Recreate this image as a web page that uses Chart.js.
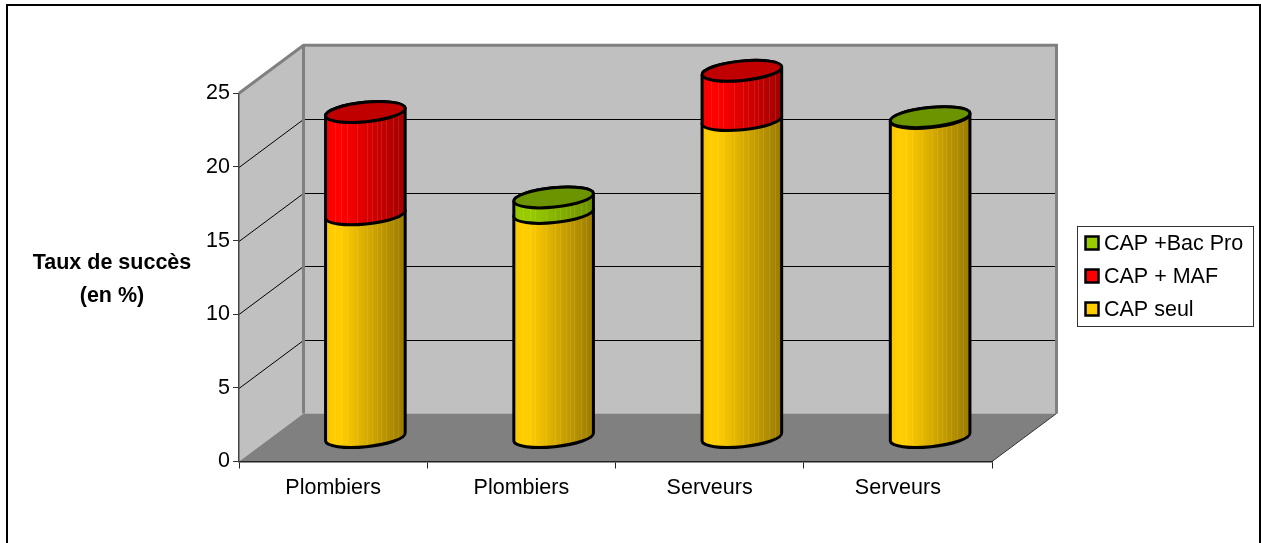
<!DOCTYPE html>
<html>
<head>
<meta charset="utf-8">
<style>
  html, body { margin: 0; padding: 0; background: #fff; }
  canvas { display: block; }
</style>
<script src="https://cdn.jsdelivr.net/npm/chart.js@4"></script>
</head>
<body>
<canvas id="myChart" width="1261" height="543"></canvas>
<script>
const categories = ['Plombiers', 'Plombiers', 'Serveurs', 'Serveurs'];
const capSeul = [15.15, 15.25, 21.55, 21.7];
const capMaf = [6.95, 0, 3.35, 0];
const capBacPro = [0, 1.05, 0, 0.05];
const yTicks = [0, 5, 10, 15, 20, 25];
const axisTitle = ['Taux de succès', '(en %)'];

const FONT = 'Arial, "Liberation Sans", sans-serif';
const DEPTH_X = 64.5;
const DEPTH_Y = -48;
const TILT = -0.1;
const RY = 9.7;
// pale vertical bands on the cylinder bodies, as fractions of the width
const BANDS = [0.12, 0.2, 0.27, 0.4, 0.52, 0.58, 0.65, 0.7, 0.76, 0.84, 0.91];

const walls = {
  id: 'walls',
  beforeDraw(chart) {
    const {ctx, chartArea: a, scales: {y}} = chart;
    const bx = a.left + DEPTH_X, tyb = a.top + DEPTH_Y, byb = a.bottom + DEPTH_Y;
    const brx = a.right + DEPTH_X;
    ctx.save();
    // outer frame
    ctx.strokeStyle = '#000';
    ctx.lineWidth = 2;
    ctx.strokeRect(7, 5, 1253, 560);
    // left wall, back wall, floor
    ctx.fillStyle = '#c0c0c0';
    ctx.beginPath();
    ctx.moveTo(a.left, a.top); ctx.lineTo(bx, tyb); ctx.lineTo(bx, byb); ctx.lineTo(a.left, a.bottom);
    ctx.closePath(); ctx.fill();
    ctx.fillRect(bx, tyb, brx - bx, byb - tyb);
    ctx.fillStyle = '#808080';
    ctx.beginPath();
    ctx.moveTo(a.left, a.bottom); ctx.lineTo(bx, byb); ctx.lineTo(brx, byb); ctx.lineTo(a.right, a.bottom);
    ctx.closePath(); ctx.fill();
    // gridlines
    ctx.strokeStyle = '#000';
    ctx.lineWidth = 1;
    yTicks.slice(1, -1).forEach(v => {
      const py = Math.round(y.getPixelForValue(v)) + 0.5;
      ctx.beginPath();
      ctx.moveTo(a.left, py);
      ctx.lineTo(bx, py + DEPTH_Y);
      ctx.lineTo(brx, py + DEPTH_Y);
      ctx.stroke();
    });
    // wall edges
    ctx.strokeStyle = '#808080';
    ctx.lineWidth = 3;
    ctx.beginPath();
    ctx.moveTo(a.left, a.top); ctx.lineTo(bx, tyb); ctx.lineTo(brx, tyb); ctx.lineTo(brx, byb);
    ctx.moveTo(bx, tyb); ctx.lineTo(bx, byb);
    ctx.stroke();
    ctx.strokeStyle = '#333';
    ctx.lineWidth = 1;
    ctx.beginPath();
    ctx.moveTo(a.right, a.bottom); ctx.lineTo(brx, byb);
    ctx.stroke();
    // axis title
    ctx.fillStyle = '#000';
    ctx.font = 'bold 21.5px ' + FONT;
    ctx.textAlign = 'center';
    ctx.textBaseline = 'middle';
    ctx.fillText(axisTitle[0], 112, 263);
    ctx.fillText(axisTitle[1], 112, 296);
    ctx.restore();
  },
};

const cylinders = {
  id: 'cylinders',
  beforeDatasetsDraw(chart) {
    const {ctx} = chart;
    const metas = chart.data.datasets.map((d, i) => chart.getDatasetMeta(i));
    categories.forEach((c, idx) => {
      let topDs = 0;
      chart.data.datasets.forEach((ds, i) => { if (ds.data[idx] > 0) topDs = i; });
      chart.data.datasets.forEach((ds, i) => {
        if (!(ds.data[idx] > 0)) return;
        const el = metas[i].data[idx];
        const cx = el.x + DEPTH_X / 2, rx = el.width / 2;
        const yTop = el.y + DEPTH_Y / 2, yBase = el.base + DEPTH_Y / 2;
        const g = ctx.createLinearGradient(cx - rx, 0, cx + rx, 0);
        g.addColorStop(0, ds.bodyColors[1]);
        g.addColorStop(0.08, ds.bodyColors[0]);
        g.addColorStop(0.2, ds.bodyColors[0]);
        g.addColorStop(1, ds.bodyColors[2]);
        const body = new Path2D();
        body.ellipse(cx, yBase, rx, RY, TILT, 0, Math.PI);
        body.ellipse(cx, yTop, rx, RY, TILT, Math.PI, Math.PI * 2);
        body.closePath();
        ctx.save();
        ctx.fillStyle = g;
        ctx.fill(body);
        ctx.save();
        ctx.clip(body);
        ctx.strokeStyle = 'rgba(255,255,255,0.1)';
        ctx.lineWidth = 1;
        BANDS.forEach(f => {
          const bx = Math.round(cx - rx + f * 2 * rx) + 0.5;
          ctx.beginPath();
          ctx.moveTo(bx, yTop - 2 * RY);
          ctx.lineTo(bx, yBase + 2 * RY);
          ctx.stroke();
        });
        ctx.restore();
        ctx.strokeStyle = '#000';
        ctx.lineWidth = 3;
        ctx.stroke(body);
        if (i === topDs) {
          ctx.beginPath();
          ctx.ellipse(cx, yTop, rx, RY, TILT, 0, Math.PI * 2);
          ctx.fillStyle = ds.capColor;
          ctx.fill();
          ctx.stroke();
        }
        ctx.restore();
      });
    });
    return false;
  },
};

const boxLegend = {
  id: 'boxLegend',
  afterDraw(chart) {
    const {ctx} = chart;
    ctx.save();
    ctx.strokeStyle = '#333';
    ctx.lineWidth = 1;
    ctx.strokeRect(1077.5, 226.5, 176, 100);
    ctx.font = '21.5px ' + FONT;
    ctx.textAlign = 'left';
    ctx.textBaseline = 'middle';
    chart.data.datasets.slice().reverse().forEach((ds, i) => {
      const yc = 243 + i * 33;
      ctx.fillStyle = ds.backgroundColor;
      ctx.fillRect(1085.5, yc - 6.5, 13, 13);
      ctx.strokeStyle = '#000';
      ctx.lineWidth = 2.5;
      ctx.strokeRect(1085.5, yc - 6.5, 13, 13);
      ctx.fillStyle = '#000';
      ctx.fillText(ds.label, 1104, yc + 1);
    });
    ctx.restore();
  },
};

new Chart(document.getElementById('myChart').getContext('2d'), {
  type: 'bar',
  data: {
    labels: categories,
    datasets: [
      {label: 'CAP seul', data: capSeul, backgroundColor: '#ffcc00', capColor: '#cca300', bodyColors: ['#ffcc00', '#f5c400', '#997a00']},
      {label: 'CAP + MAF', data: capMaf, backgroundColor: '#ff0000', capColor: '#c00000', bodyColors: ['#ff0000', '#f00000', '#a00000']},
      {label: 'CAP +Bac Pro', data: capBacPro, backgroundColor: '#99cc00', capColor: '#6b9400', bodyColors: ['#99cc00', '#90c000', '#6b8f00']},
    ],
  },
  options: {
    responsive: false,
    animation: false,
    devicePixelRatio: 1,
    categoryPercentage: 0.425,
    barPercentage: 1,
    layout: {padding: {left: 159, right: 269, top: 93.3, bottom: 0}},
    plugins: {legend: {display: false}, tooltip: {enabled: false}},
    scales: {
      x: {
        stacked: true,
        afterFit: scale => { scale.height = 81.5; },
        grid: {offset: true, drawOnChartArea: false, tickLength: 7, color: '#222'},
        border: {color: '#222', width: 1.5},
        ticks: {color: '#000', font: {family: FONT, size: 21.5}, padding: 7, maxRotation: 0, autoSkip: false},
      },
      y: {
        stacked: true,
        min: 0,
        max: 25,
        afterFit: scale => { scale.width = 80; },
        afterBuildTicks: scale => { scale.ticks = yTicks.map(value => ({value})); },
        grid: {drawOnChartArea: false, tickLength: 6, color: '#333'},
        border: {color: '#444', width: 1.5},
        ticks: {color: '#000', font: {family: FONT, size: 21.5}, padding: 3},
      },
    },
  },
  plugins: [walls, cylinders, boxLegend],
});
</script>
</body>
</html>
